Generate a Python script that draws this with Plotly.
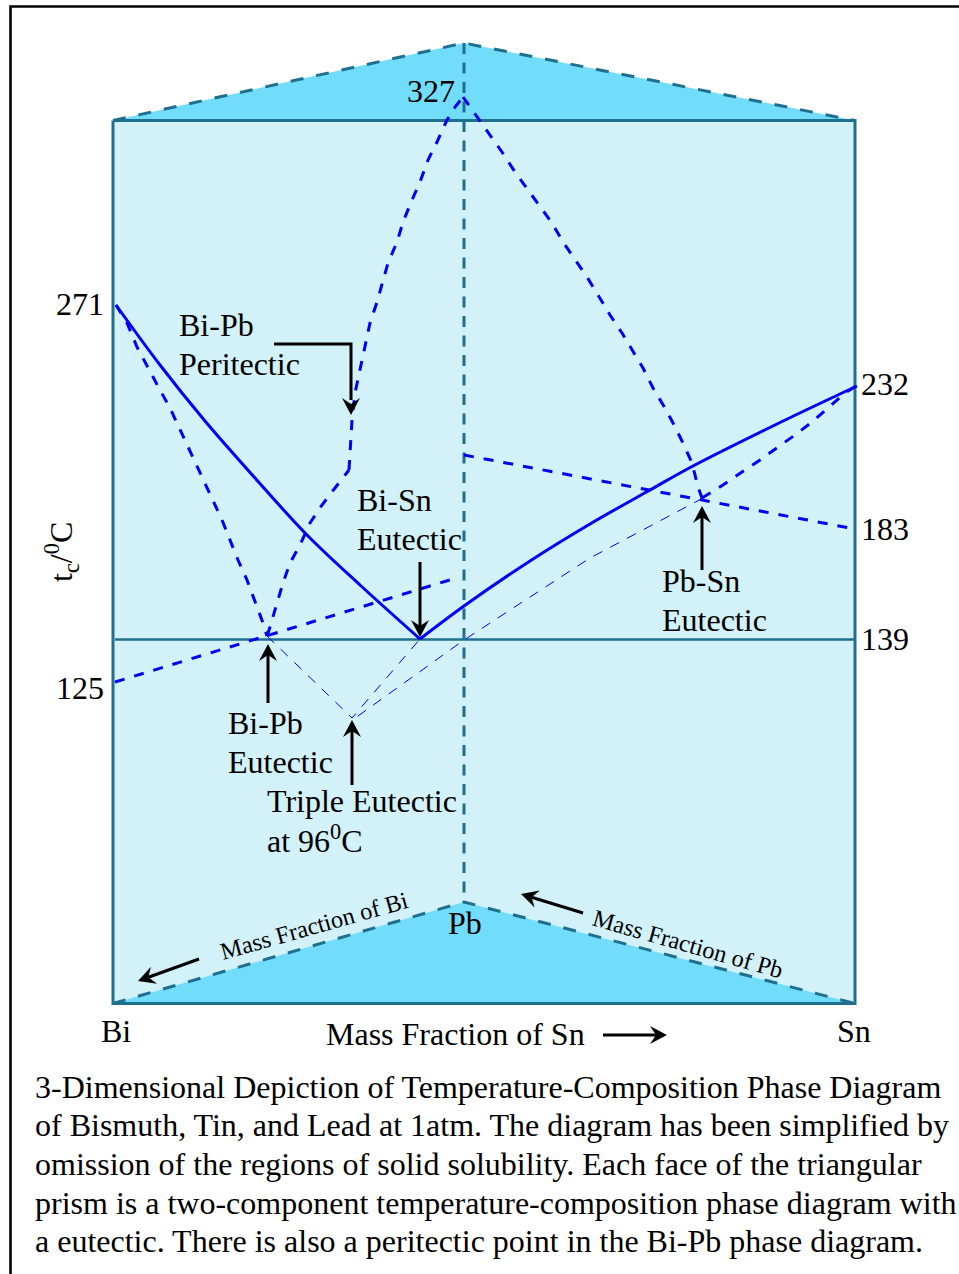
import math
import plotly.graph_objects as go

# ---- geometry of the prism ----
top_tri_x = [113, 464, 855, 113]
top_tri_y = [120.5, 43, 120.5, 120.5]
bot_tri_x = [113, 464, 855, 113]
bot_tri_y = [1003.5, 902, 1003.5, 1003.5]
face_x = [113, 855, 855, 113, 113]
face_y = [120.5, 120.5, 1003.5, 1003.5, 120.5]
back_x = [464, 464]
back_y = [43, 902]
top_rear_x = [113, 464, 855]
top_rear_y = [120.5, 43, 120.5]
bot_rear_x = [113, 464, 855]
bot_rear_y = [1003.5, 902, 1003.5]
iso139_x = [115, 855]
iso139_y = [639.5, 639.5]
frame_x = [10.5, 10.5, 959]
frame_y = [1274, 6.5, 6.5]

# ---- phase curves ----
bi_sn_x = [116, 160, 205, 255, 307, 360, 420]
bi_sn_y = [305, 365, 421, 478, 535, 585, 639]
pb_sn_x = [420, 464, 530, 590, 650, 693, 777, 857]
pb_sn_y = [639, 606, 561, 524, 490, 466, 424, 386]
bi_pb_l_x = [116, 127, 137, 148, 160, 170, 185, 195, 203, 213, 222, 230, 238, 247, 257, 263, 267]
bi_pb_l_y = [305, 323, 347, 368, 390, 408, 440, 462, 480, 500, 520, 540, 560, 580, 607, 623, 636]
bi_pb_low_x = [267, 270, 277, 283, 290, 300, 310, 322, 335, 349]
bi_pb_low_y = [636, 627, 603, 583, 563, 545, 523, 505, 488, 470]
bi_pb_up_x = [349, 352, 355, 360, 365, 370, 377, 383, 388, 397, 403, 412, 420, 428, 437, 447, 455, 463]
bi_pb_up_y = [470, 420, 393, 370, 347, 323, 302, 280, 263, 242, 222, 200, 182, 160, 142, 120, 107, 97]
pb_r_x = [463, 488, 502, 515, 528, 540, 552, 563, 575, 587, 598, 610, 622, 632, 643, 653, 665, 673, 683, 692, 698, 702]
pb_r_y = [97, 132, 152, 172, 190, 207, 223, 242, 260, 277, 295, 315, 333, 350, 368, 388, 408, 423, 443, 463, 487, 498]
sn_d_x = [702, 723, 742, 760, 778, 795, 812, 828, 845, 856]
sn_d_y = [498, 485, 472, 460, 447, 435, 422, 408, 393, 386]
iso183_x = [464, 855]
iso183_y = [455, 529]
iso125_x = [115, 453]
iso125_y = [682, 579]
thin1_x = [267, 352, 420]
thin1_y = [636, 718, 639]
thin2_x = [703, 590, 464, 358, 352]
thin2_y = [498, 558, 640, 716, 718]

# ---- arrows ----
peri_x = [274, 351, 351]
peri_y = [344, 344, 400]
arrow_tail_x = [351, 420, 268, 352, 702, 603, 199, 583]
arrow_tail_y = [400, 562, 703, 785, 570, 1035, 959, 913]
arrow_tip_x = [351, 420, 268, 352, 702, 667, 138, 521]
arrow_tip_y = [415, 637, 644, 720, 506, 1035, 981, 894]

# ---- text ----
left_labels = ["Bi-Pb", "Peritectic", "Bi-Sn", "Eutectic", "232", "183", "139",
               "Pb-Sn", "Eutectic", "Bi-Pb", "Eutectic", "Triple Eutectic",
               "at 96<sup>0</sup>C", "Mass Fraction of Sn"]
left_labels_x = [177, 177, 355, 355, 859, 859, 859, 660, 660, 226, 226, 265, 265, 323.5]
left_labels_y = [325, 364, 500, 539, 384, 529, 639, 581, 620, 723, 762, 801, 839, 1034]
right_labels = ["327", "271", "125"]
right_labels_x = [457, 106, 106]
right_labels_y = [91, 304, 688]
center_labels = ["Pb", "Bi", "Sn"]
center_labels_x = [465, 116, 854]
center_labels_y = [923, 1031, 1031]
caption = [
    "3-Dimensional Depiction of Temperature-Composition Phase Diagram",
    "of Bismuth, Tin, and Lead at 1atm. The diagram has been simplified by",
    "omission of the regions of solid solubility. Each face of the triangular",
    "prism is a two-component temperature-composition phase diagram with",
    "a eutectic. There is also a peritectic point in the Bi-Pb phase diagram.",
]
caption_y = [1087, 1125, 1164, 1203, 1241]

SERIF = "Liberation Serif"
TEAL = "#1F6F8F"
BLUE = "#0000F5"
SKY = "#72DCFB"
PALE = "#D2F1F9"

fig = go.Figure()


def add(x, y, color, width, dash=None, fill=None, fillcolor=None, shape="linear"):
    fig.add_trace(go.Scatter(
        x=x, y=y, mode="lines" if width else "none", fill=fill, fillcolor=fillcolor,
        line=dict(color=color, width=width, dash=dash, shape=shape) if width else None,
        hoverinfo="skip", showlegend=False))


add(top_tri_x, top_tri_y, None, 0, fill="toself", fillcolor=SKY)
add(face_x, face_y, None, 0, fill="toself", fillcolor=PALE)
add(bot_tri_x, bot_tri_y, None, 0, fill="toself", fillcolor=SKY)

add(back_x, back_y, TEAL, 3, dash="11px,8.5px")
add(top_rear_x, top_rear_y, TEAL, 3, dash="13px,13px")
add(bot_rear_x, bot_rear_y, TEAL, 3, dash="13px,13px")
add(face_x, face_y, TEAL, 3)
add(iso139_x, iso139_y, TEAL, 2.6)

for xs, ys in [(bi_pb_l_x, bi_pb_l_y), (bi_pb_low_x, bi_pb_low_y), (bi_pb_up_x, bi_pb_up_y),
               (pb_r_x, pb_r_y), (sn_d_x, sn_d_y)]:
    add(xs, ys, BLUE, 3, dash="10px,10px")
for xs, ys in [(iso183_x, iso183_y), (iso125_x, iso125_y)]:
    add(xs, ys, BLUE, 3, dash="10px,10px")
for xs, ys in [(thin1_x, thin1_y), (thin2_x, thin2_y)]:
    add(xs, ys, BLUE, 1, dash="10px,9px")
for xs, ys in [(bi_sn_x, bi_sn_y), (pb_sn_x, pb_sn_y)]:
    add(xs, ys, BLUE, 3, shape="spline")

add(peri_x, peri_y, "black", 3)
add(frame_x, frame_y, "black", 2.6)


def arrow(tx, ty, hx, hy, length=17, half=9, notch=6):
    d = math.hypot(hx - tx, hy - ty)
    ux, uy = (hx - tx) / d, (hy - ty) / d
    px, py = -uy, ux
    bx, by = hx - ux * length, hy - uy * length
    nx, ny = bx + ux * notch, by + uy * notch
    if d > length:
        add([tx, nx], [ty, ny], "black", 3)
    add([hx, bx + px * half, nx, bx - px * half, hx],
        [hy, by + py * half, ny, by - py * half, hy],
        None, 0, fill="toself", fillcolor="black")


for tx, ty, hx, hy in zip(arrow_tail_x, arrow_tail_y, arrow_tip_x, arrow_tip_y):
    arrow(tx, ty, hx, hy)


def label(text, x, y, anchor, size=32, angle=0):
    fig.add_annotation(x=x, y=y, xref="x", yref="y", text=text, showarrow=False,
                       xanchor=anchor, yanchor="middle", textangle=angle,
                       font=dict(family=SERIF, size=size, color="black"))


for t, x, y in zip(left_labels, left_labels_x, left_labels_y):
    label(t, x, y, "left")
for t, x, y in zip(right_labels, right_labels_x, right_labels_y):
    label(t, x, y, "right")
for t, x, y in zip(center_labels, center_labels_x, center_labels_y):
    label(t, x, y, "center")
label("t<sub>c</sub>/<sup>0</sup>C", 61, 552, "center", angle=-90)
label("Mass Fraction of Bi", 314, 925, "center", size=24.3, angle=-15.7)
label("Mass Fraction of Pb", 687.5, 943, "center", size=24.3, angle=15.8)
for t, y in zip(caption, caption_y):
    label(t, 32.5, y, "left", size=32)

fig.update_layout(
    width=959, height=1274, margin=dict(l=0, r=0, t=0, b=0),
    paper_bgcolor="white", plot_bgcolor="white", showlegend=False,
    xaxis=dict(range=[0, 959], visible=False),
    yaxis=dict(range=[1274, 0], visible=False),
)
fig.write_html("out.html", config={"displayModeBar": False},
               post_script="document.body.style.margin='0';")
